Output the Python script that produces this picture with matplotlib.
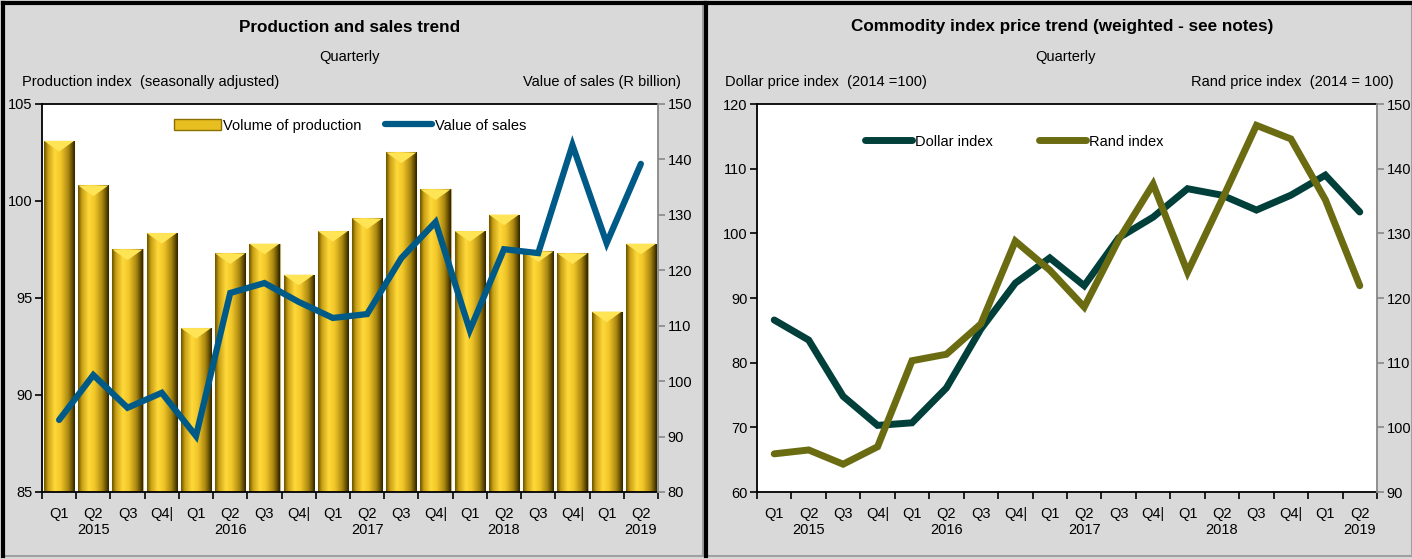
import matplotlib.pyplot as plt
import numpy as np
from matplotlib.colors import LinearSegmentedColormap
from matplotlib.patches import Rectangle, Patch
from matplotlib.lines import Line2D

plt.rcParams['font.family'] = ['Liberation Sans Narrow', 'Liberation Sans', 'DejaVu Sans']

quarters = ['Q1', 'Q2', 'Q3', 'Q4|'] * 4 + ['Q1', 'Q2']
years = ['2015', '2016', '2017', '2018', '2019']

# production and sales
production = [103.1, 100.8, 97.5, 98.35, 93.45, 97.3, 97.8, 96.2, 98.45, 99.1,
              102.5, 100.6, 98.45, 99.3, 97.4, 97.3, 94.3, 97.8]
sales = [93.0, 101.1, 95.2, 97.9, 90.1, 115.9, 117.7, 114.3, 111.4, 112.1,
         122.2, 128.7, 109.2, 123.8, 123.1, 142.6, 124.9, 139.2]

# commodity indices
dollar_index = [86.6, 83.5, 74.8, 70.3, 70.7, 76.1, 85.2, 92.3, 96.2, 91.9,
                99.3, 102.5, 106.9, 105.9, 103.6, 105.9, 109.0, 103.3]
rand_index = [95.9, 96.5, 94.3, 97.0, 110.3, 111.3, 116.0, 128.8, 124.3, 118.6,
              129.0, 137.6, 124.0, 135.2, 146.7, 144.6, 135.2, 121.9]

W, H = 1412, 559
BG = '#d9d9d9'
fig = plt.figure(figsize=(W / 100, H / 100), dpi=100, facecolor=BG)


def fx(x):
    return x / W


def fy(y):
    return 1 - y / H


# panel borders
for x0, x1 in [(3, 703), (706, 1412)]:
    fig.add_artist(Rectangle((fx(x0), fy(556)), fx(x1 - x0), fy(3) - fy(556),
                             transform=fig.transFigure, facecolor='none',
                             edgecolor='#a0a0a0', lw=1.5))
    fig.add_artist(Line2D([fx(x0), fx(x1)], [fy(3), fy(3)], transform=fig.transFigure,
                          color='black', lw=3))
    fig.add_artist(Line2D([fx(x0), fx(x0)], [fy(3), fy(556)], transform=fig.transFigure,
                          color='black', lw=3))

x = np.arange(len(quarters))
fs = 10.5


def setup_axes(ax, ax2):
    ax.set_xlim(-0.5, len(quarters) - 0.5)
    ax.set_xticks(np.arange(-0.5, len(quarters), 1.0))
    ax.set_xticklabels([])
    ax.set_xticks(x, minor=True)
    labels = []
    for i, q in enumerate(quarters):
        if i % 4 == 1:
            labels.append(q + '\n' + years[i // 4])
        else:
            labels.append(q + '\n ')
    ax.set_xticklabels(labels, minor=True, fontsize=fs)
    ax.tick_params(axis='x', which='minor', length=0, pad=11)
    ax.tick_params(axis='x', which='major', length=5, direction='out', width=1.2)
    ax.tick_params(axis='y', length=5, width=1.2, labelsize=fs, pad=2)
    ax2.tick_params(axis='y', length=5, width=1.2, colors='#888888', labelcolor='black',
                    labelsize=fs, pad=2)
    for s in ['top', 'left', 'bottom']:
        ax.spines[s].set_linewidth(1.3)
        ax2.spines[s].set_visible(False)
    ax.spines['right'].set_visible(False)
    ax2.spines['right'].set_color('#888888')
    ax2.spines['right'].set_linewidth(1.3)


# ---------------- left chart ----------------
axL = fig.add_axes([fx(42), fy(492), fx(658 - 42), fy(104) - fy(492)])
axL2 = axL.twinx()
axL.set_ylim(85, 105)
axL.set_yticks(range(85, 106, 5))
axL2.set_ylim(80, 150)
axL2.set_yticks(range(80, 151, 10))
setup_axes(axL, axL2)

gold = LinearSegmentedColormap.from_list('gold', [
    (0.0, '#6a5400'), (0.12, '#c9a015'), (0.35, '#ffd93a'), (0.55, '#f0c528'),
    (0.8, '#a88510'), (0.93, '#5c4800'), (1.0, '#2e2400')])
grad = np.linspace(0, 1, 64).reshape(1, -1)
bars = axL.bar(x, [p - 85 for p in production], bottom=85, width=0.88,
               color='#e8bf20', edgecolor='#bfae70', lw=0.8, zorder=2)
for b in bars:
    x0, y0 = b.get_x(), b.get_y()
    w, h = b.get_width(), b.get_height()
    im = axL.imshow(grad, cmap=gold, aspect='auto', extent=[x0, x0 + w, y0, y0 + h],
                    zorder=2.5, interpolation='bicubic')
    im.set_clip_path(b)
    # top bevel triangle
    tri = plt.Polygon([[x0, y0 + h], [x0 + w, y0 + h], [x0 + w / 2, y0 + h - 0.55]],
                      closed=True, facecolor='#ffe455', edgecolor='none', zorder=2.6)
    axL.add_patch(tri)
axL.set_xlim(-0.5, len(quarters) - 0.5)
axL.set_ylim(85, 105)

axL2.plot(x, sales, color='#005a87', lw=4.5, solid_capstyle='round',
          solid_joinstyle='miter', zorder=3)

axL2.legend(handles=[Patch(facecolor='#e8bf20', edgecolor='#8a7000', label='Volume of production'),
                     Line2D([0], [0], color='#005a87', lw=4.5, solid_capstyle='round',
                            label='Value of sales')],
            loc='upper center', bbox_to_anchor=(0.5, 1.0), ncol=2, frameon=False,
            fontsize=fs, handlelength=3.2, handletextpad=0.2, columnspacing=1.6,
            borderaxespad=0.6)

# ---------------- right chart ----------------
axR = fig.add_axes([fx(757), fy(492), fx(1377 - 757), fy(104) - fy(492)])
axR2 = axR.twinx()
axR.set_ylim(60, 120)
axR.set_yticks(range(60, 121, 10))
axR2.set_ylim(90, 150)
axR2.set_yticks(range(90, 151, 10))
setup_axes(axR, axR2)

axR.plot(x, dollar_index, color='#003f3a', lw=5, solid_capstyle='round',
         solid_joinstyle='miter', zorder=3)
axR2.plot(x, rand_index, color='#6b6b12', lw=5, solid_capstyle='round',
          solid_joinstyle='miter', zorder=3)
axR2.legend(handles=[Line2D([0], [0], color='#003f3a', lw=5, solid_capstyle='round',
                            label='Dollar index'),
                     Line2D([0], [0], color='#6b6b12', lw=5, solid_capstyle='round',
                            label='Rand index')],
            loc='upper center', bbox_to_anchor=(0.415, 0.955), ncol=2, frameon=False,
            fontsize=fs, handlelength=3.2, handletextpad=0.2, columnspacing=3.2)

# ---------------- texts ----------------
fig.text(fx(350), fy(27), 'Production and sales trend', ha='center', va='center',
         fontsize=12.3, fontweight='bold')
fig.text(fx(350), fy(57), 'Quarterly', ha='center', va='center', fontsize=fs)
fig.text(fx(22), fy(82), 'Production index  (seasonally adjusted)', ha='left',
         va='center', fontsize=fs)
fig.text(fx(681), fy(82), 'Value of sales (R billion)', ha='right', va='center',
         fontsize=fs)

fig.text(fx(1062), fy(27), 'Commodity index price trend (weighted - see notes)',
         ha='center', va='center', fontsize=12.3, fontweight='bold')
fig.text(fx(1066), fy(57), 'Quarterly', ha='center', va='center', fontsize=fs)
fig.text(fx(725), fy(82), 'Dollar price index  (2014 =100)', ha='left', va='center',
         fontsize=fs)
fig.text(fx(1394), fy(82), 'Rand price index  (2014 = 100)', ha='right', va='center',
         fontsize=fs)

fig.savefig('out.png', dpi=100, facecolor=BG)
